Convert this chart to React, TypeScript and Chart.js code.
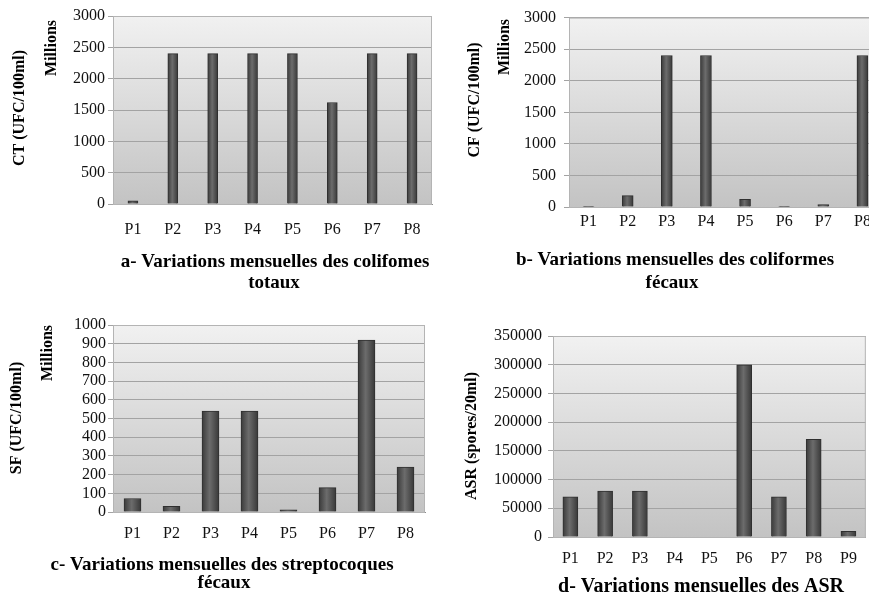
import React, { useEffect, useRef } from 'react';
import { Chart, registerables } from 'chart.js';
Chart.register(...registerables);

const labels8 = ['P1', 'P2', 'P3', 'P4', 'P5', 'P6', 'P7', 'P8'];
const labels9 = ['P1', 'P2', 'P3', 'P4', 'P5', 'P6', 'P7', 'P8', 'P9'];
const ctValues = [50, 2400, 2400, 2400, 2400, 1620, 2400, 2400];
const cfValues = [10, 180, 2400, 2400, 120, 10, 40, 2400];
const sfValues = [72, 30, 540, 540, 12, 130, 920, 240];
const asrValues = [70000, 80000, 80000, 0, 0, 300000, 70000, 170000, 10000];

const SERIF = '"Liberation Serif", "Times New Roman", serif';

type TextItem = { text: string; x: number; y: number; rot?: boolean; size: number; bold?: boolean };
type Panel = {
  left: number; top: number; width: number; height: number;
  area: { left: number; top: number; right: number; bottom: number };
  labels: string[]; values: number[]; max: number; step: number;
  barThickness: number; yPad: number; xPad: number; texts: TextItem[];
};

const panels: Panel[] = [
  {
    left: 0, top: 0, width: 440, height: 300,
    area: { left: 113, top: 16, right: 432, bottom: 204 },
    labels: labels8, values: ctValues, max: 3000, step: 500,
    barThickness: 10, yPad: 3, xPad: 16,
    texts: [
      { text: 'CT (UFC/100ml)', x: 20, y: 108, rot: true, size: 16, bold: true },
      { text: 'Millions', x: 52, y: 48, rot: true, size: 16, bold: true },
      { text: 'a- Variations mensuelles des colifomes', x: 275, y: 262, size: 19, bold: true },
      { text: 'totaux', x: 274, y: 283, size: 19, bold: true },
    ],
  },
  {
    left: 440, top: 0, width: 450, height: 300,
    area: { left: 569, top: 16, right: 882, bottom: 207 },
    labels: labels8, values: cfValues, max: 3000, step: 500,
    barThickness: 11, yPad: 8, xPad: 5,
    texts: [
      { text: 'CF (UFC/100ml)', x: 475, y: 100, rot: true, size: 16, bold: true },
      { text: 'Millions', x: 505, y: 47, rot: true, size: 16, bold: true },
      { text: 'b- Variations mensuelles des coliformes', x: 675, y: 260, size: 19, bold: true },
      { text: 'fécaux', x: 672, y: 283, size: 19, bold: true },
    ],
  },
  {
    left: 0, top: 300, width: 440, height: 295,
    area: { left: 113, top: 325, right: 425, bottom: 512 },
    labels: labels8, values: sfValues, max: 1000, step: 100,
    barThickness: 17, yPad: 2, xPad: 12,
    texts: [
      { text: 'SF (UFC/100ml)', x: 17, y: 418, rot: true, size: 16, bold: true },
      { text: 'Millions', x: 48, y: 353, rot: true, size: 16, bold: true },
      { text: 'c- Variations mensuelles des streptocoques', x: 222, y: 565, size: 19, bold: true },
      { text: 'fécaux', x: 224, y: 583, size: 19, bold: true },
    ],
  },
  {
    left: 440, top: 300, width: 429, height: 295,
    area: { left: 553, top: 336, right: 867, bottom: 537 },
    labels: labels9, values: asrValues, max: 350000, step: 50000,
    barThickness: 15, yPad: 6, xPad: 12,
    texts: [
      { text: 'ASR (spores/20ml)', x: 472, y: 436, rot: true, size: 16, bold: true },
      { text: 'd- Variations mensuelles des ASR', x: 701, y: 587, size: 20, bold: true },
    ],
  },
];

function makeDeco(p: Panel) {
  return {
    id: 'deco',
    beforeDraw(chart: any) {
      const ctx = chart.ctx as CanvasRenderingContext2D;
      const a = chart.chartArea;
      ctx.save();
      ctx.fillStyle = '#ffffff';
      ctx.fillRect(0, 0, chart.width, chart.height);
      const g = ctx.createLinearGradient(0, a.top, 0, a.bottom);
      g.addColorStop(0, '#f1f1f1');
      g.addColorStop(1, '#c3c3c3');
      ctx.fillStyle = g;
      ctx.fillRect(a.left, a.top, a.right - a.left, a.bottom - a.top);
      ctx.restore();
    },
    afterDraw(chart: any) {
      const ctx = chart.ctx as CanvasRenderingContext2D;
      const a = chart.chartArea;
      ctx.save();
      ctx.strokeStyle = '#b4b4b4';
      ctx.lineWidth = 1;
      ctx.strokeRect(a.left + 0.5, a.top + 0.5, a.right - a.left - 1, a.bottom - a.top);
      ctx.fillStyle = '#000';
      ctx.textAlign = 'center';
      ctx.textBaseline = 'middle';
      for (const t of p.texts) {
        ctx.font = `${t.bold ? 'bold ' : ''}${t.size}px ${SERIF}`;
        const x = t.x - p.left;
        const y = t.y - p.top;
        if (t.rot) {
          ctx.save();
          ctx.translate(x, y);
          ctx.rotate(-Math.PI / 2);
          ctx.fillText(t.text, 0, 0);
          ctx.restore();
        } else {
          ctx.fillText(t.text, x, y);
        }
      }
      ctx.restore();
    },
  };
}

function PanelChart({ p }: { p: Panel }) {
  const ref = useRef<HTMLCanvasElement>(null);
  useEffect(() => {
    if (!ref.current) return;
    const chart = new Chart(ref.current, {
      type: 'bar',
      data: {
        labels: p.labels,
        datasets: [
          {
            data: p.values,
            barThickness: p.barThickness,
            borderColor: '#2f2f2f',
            borderWidth: 1,
            backgroundColor: (c: any) => {
              const ch = c.chart;
              if (!ch.chartArea || c.type !== 'data' || !ch.scales.x) return '#555555';
              const x = ch.scales.x.getPixelForValue(c.dataIndex);
              const w = p.barThickness;
              const g = ch.ctx.createLinearGradient(x - w / 2, 0, x + w / 2, 0);
              g.addColorStop(0, '#3a3a3a');
              g.addColorStop(0.45, '#6c6c6c');
              g.addColorStop(1, '#383838');
              return g;
            },
          },
        ],
      },
      options: {
        animation: false,
        responsive: false,
        devicePixelRatio: 1,
        layout: {
          padding: {
            left: 0,
            top: p.area.top - p.top,
            right: p.left + p.width - p.area.right,
            bottom: 0,
          },
        },
        plugins: { legend: { display: false }, title: { display: false }, tooltip: { enabled: false } },
        scales: {
          x: {
            grid: { display: false, drawTicks: false },
            border: { display: true, color: '#8c8c8c' },
            ticks: { color: '#111', padding: p.xPad, font: { family: SERIF, size: 16 }, maxRotation: 0, autoSkip: false },
            afterFit: (s: any) => { s.height = p.top + p.height - p.area.bottom; },
          },
          y: {
            min: 0,
            max: p.max,
            grid: { color: '#a3a3a3', tickLength: 5 },
            border: { display: true, color: '#9a9a9a' },
            ticks: {
              stepSize: p.step,
              autoSkip: false,
              color: '#111',
              padding: p.yPad,
              font: { family: SERIF, size: 16 },
              callback: (v: any) => String(v),
            },
            afterFit: (s: any) => { s.width = p.area.left - p.left; },
          },
        },
      },
      plugins: [makeDeco(p)],
    } as any);
    return () => chart.destroy();
  }, []);
  return (
    <canvas
      ref={ref}
      width={p.width}
      height={p.height}
      style={{ position: 'absolute', left: p.left, top: p.top, width: p.width, height: p.height, display: 'block' }}
    />
  );
}

export default function App() {
  return (
    <div style={{ position: 'fixed', left: 0, top: 0, width: 869, height: 595, overflow: 'hidden', background: '#fff' }}>
      {panels.map((p, i) => (
        <PanelChart key={i} p={p} />
      ))}
    </div>
  );
}
